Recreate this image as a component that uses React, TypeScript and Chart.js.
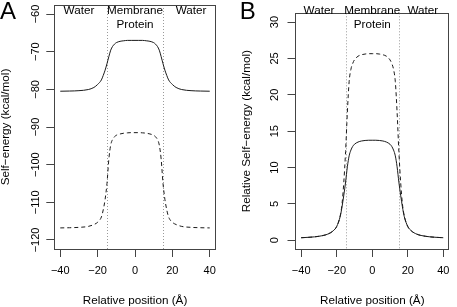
import React, { useEffect, useRef } from "react";
import { Chart, registerables } from "chart.js";

Chart.register(...registerables);

// ---------- data ----------
const positions = [-40, -35, -30, -25, -22, -20, -18, -17, -16, -15, -14, -13, -12, -11, -10, -8, -6, -4, -2, 0, 2, 4, 6, 8, 10, 11, 12, 13, 14, 15, 16, 17, 18, 20, 22, 25, 30, 35, 40];

const solidA = [-80.5, -80.45, -80.35, -80.05, -79.5, -78.7, -77.5, -76.3, -74.9, -73.2, -71.3, -69.6, -68.6, -68.0, -67.6, -67.25, -67.1, -67.0, -67.0, -67.0, -67.0, -67.0, -67.1, -67.25, -67.6, -68.0, -68.6, -69.6, -71.3, -73.2, -74.9, -76.3, -77.5, -78.7, -79.5, -80.05, -80.35, -80.45, -80.5];

const dashedA = [-116.8, -116.75, -116.65, -116.4, -115.9, -115.3, -113.9, -112.0, -109.2, -105.0, -98.5, -94.8, -93.3, -92.6, -92.2, -91.85, -91.65, -91.55, -91.5, -91.5, -91.5, -91.55, -91.65, -91.85, -92.2, -92.6, -93.3, -94.8, -98.5, -105.0, -109.2, -112.0, -113.9, -115.3, -115.9, -116.4, -116.65, -116.75, -116.8];

const solidB = [0.35, 0.42, 0.55, 0.85, 1.3, 1.9, 3.3, 4.6, 6.2, 8.0, 10.1, 11.6, 12.4, 12.9, 13.2, 13.5, 13.65, 13.72, 13.75, 13.75, 13.75, 13.72, 13.65, 13.5, 13.2, 12.9, 12.4, 11.6, 10.1, 8.0, 6.2, 4.6, 3.3, 1.9, 1.3, 0.85, 0.55, 0.42, 0.35];

const dashedB = [0.35, 0.42, 0.55, 0.85, 1.3, 1.9, 3.4, 5.0, 8.0, 12.2, 17.6, 21.8, 23.5, 24.3, 24.8, 25.3, 25.5, 25.6, 25.65, 25.65, 25.65, 25.6, 25.5, 25.3, 24.8, 24.3, 23.5, 21.8, 17.6, 12.2, 8.0, 5.0, 3.4, 1.9, 1.3, 0.85, 0.55, 0.42, 0.35];

const xTicks = [-40, -20, 0, 20, 40];
const yTicksA = [-120, -110, -100, -90, -80, -70, -60];
const yTicksB = [0, 5, 10, 15, 20, 25, 30];
const boundaries = [-15, 15];
const regionNames = [["Water"], ["Membrane", "Protein"], ["Water"]];
const regionXA = [-30, 0, 30];
const regionXB = [-30, 0, 28.5];

const FONT = '"Liberation Sans", Arial, Helvetica, sans-serif';
const AXIS_COLOR = "#444";

function minus(v: number | string) {
  return String(v).replace("-", "\u2212");
}

const decorPlugin = {
  id: "decor",
  beforeDatasetsDraw(chart: any, _args: any, opts: any) {
    const { ctx, chartArea } = chart;
    const xs = chart.scales.x;
    ctx.save();
    ctx.strokeStyle = "#9a9a9a";
    ctx.lineWidth = 1;
    ctx.setLineDash([1, 2]);
    for (const b of opts.boundaries as number[]) {
      const px = Math.round(xs.getPixelForValue(b)) + 0.5;
      ctx.beginPath();
      ctx.moveTo(px, chartArea.top);
      ctx.lineTo(px, chartArea.bottom);
      ctx.stroke();
    }
    ctx.restore();
  },
  afterDatasetsDraw(chart: any, _args: any, opts: any) {
    const { ctx, chartArea } = chart;
    const xs = chart.scales.x;
    ctx.save();
    // box
    ctx.strokeStyle = AXIS_COLOR;
    ctx.lineWidth = 1;
    ctx.setLineDash([]);
    const l = Math.floor(chartArea.left) + 0.5;
    const r = Math.floor(chartArea.right) + 0.5;
    const t = Math.floor(chartArea.top) + 0.5;
    const b = Math.floor(chartArea.bottom) + 0.5;
    ctx.strokeRect(l, t, r - l, b - t);
    // region labels
    ctx.fillStyle = "#000";
    ctx.font = `11.7px ${FONT}`;
    ctx.textAlign = "center";
    ctx.textBaseline = "alphabetic";
    (opts.regionNames as string[][]).forEach((lines, i) => {
      const px = xs.getPixelForValue(opts.regionX[i]);
      lines.forEach((line, j) => {
        ctx.fillText(line, px, 14 + j * 14.2);
      });
    });
    // panel letter
    ctx.font = `24px ${FONT}`;
    ctx.textAlign = "left";
    ctx.fillText(opts.letter, opts.letterX, 19.3);
    ctx.restore();
  },
};

interface PanelCfg {
  solid: number[];
  dashed: number[];
  yMin: number;
  yMax: number;
  yTicks: number[];
  yTitle: string;
  yWidth: number;
  padRight: number;
  yLabelPad: number;
  yTitlePad: number;
  letter: string;
  letterX: number;
  regionX: number[];
}

function makeChart(canvas: HTMLCanvasElement, cfg: PanelCfg) {
  const toPts = (vals: number[]) => positions.map((x, i) => ({ x, y: vals[i] }));
  return new Chart(canvas, {
    type: "line",
    data: {
      datasets: [
        {
          data: toPts(cfg.solid),
          borderColor: "#1a1a1a",
          borderWidth: 1,
          pointRadius: 0,
          cubicInterpolationMode: "monotone",
          fill: false,
        },
        {
          data: toPts(cfg.dashed),
          borderColor: "#1a1a1a",
          borderWidth: 1,
          borderDash: [4, 3],
          pointRadius: 0,
          cubicInterpolationMode: "monotone",
          fill: false,
        },
      ],
    },
    plugins: [decorPlugin],
    options: {
      animation: false,
      responsive: false,
      devicePixelRatio: 1,
      events: [],
      layout: { padding: { left: 0, right: cfg.padRight, top: 0.8, bottom: 0 } },
      plugins: {
        legend: { display: false },
        tooltip: { enabled: false },
        decor: {
          boundaries,
          regionNames,
          regionX: cfg.regionX,
          letter: cfg.letter,
          letterX: cfg.letterX,
        },
      } as any,
      scales: {
        x: {
          type: "linear",
          min: -43.2,
          max: 43.2,
          afterBuildTicks: (s: any) => {
            s.ticks = xTicks.map((v) => ({ value: v }));
          },
          afterFit: (s: any) => {
            s.height = 58;
          },
          border: { display: false },
          grid: {
            display: true,
            drawOnChartArea: false,
            drawTicks: true,
            tickLength: 8,
            tickColor: AXIS_COLOR,
            color: AXIS_COLOR,
          },
          ticks: {
            autoSkip: false,
            maxRotation: 0,
            minRotation: 0,
            padding: 7.6,
            color: "#000",
            font: { family: FONT, size: 11 },
            callback: (v: any) => minus(v),
          },
          title: {
            display: true,
            text: "Relative position (\u00C5)",
            color: "#000",
            font: { family: FONT, size: 11.7 },
            padding: { top: 0, bottom: -1 },
          },
        },
        y: {
          type: "linear",
          min: cfg.yMin,
          max: cfg.yMax,
          afterBuildTicks: (s: any) => {
            s.ticks = cfg.yTicks.map((v) => ({ value: v }));
          },
          afterFit: (s: any) => {
            s.width = cfg.yWidth;
          },
          border: { display: false },
          grid: {
            display: true,
            drawOnChartArea: false,
            drawTicks: true,
            tickLength: 8,
            tickColor: AXIS_COLOR,
            color: AXIS_COLOR,
          },
          ticks: {
            autoSkip: false,
            minRotation: 90,
            maxRotation: 90,
            crossAlign: "center",
            padding: cfg.yLabelPad,
            color: "#000",
            font: { family: FONT, size: 11 },
            callback: (v: any) => minus(v),
          },
          title: {
            display: true,
            text: cfg.yTitle,
            color: "#000",
            font: { family: FONT, size: 11.7 },
            padding: { top: cfg.yTitlePad, bottom: 0 },
          },
        },
      },
    } as any,
  });
}

export default function App() {
  const refA = useRef<HTMLCanvasElement>(null);
  const refB = useRef<HTMLCanvasElement>(null);

  useEffect(() => {
    document.body.style.margin = "0";
    const a = makeChart(refA.current!, {
      solid: solidA,
      dashed: dashedA,
      yMin: -122.4,
      yMax: -57.6,
      yTicks: yTicksA,
      yTitle: "Self\u2212energy (kcal/mol)",
      yWidth: 54.3,
      padRight: 12.3,
      yLabelPad: -1.6,
      yTitlePad: -1.7,
      letter: "A",
      letterX: 0,
      regionX: regionXA,
    });
    const b = makeChart(refB.current!, {
      solid: solidB,
      dashed: dashedB,
      yMin: -1.2,
      yMax: 31.2,
      yTicks: yTicksB,
      yTitle: "Relative Self\u2212energy (kcal/mol)",
      yWidth: 67.5,
      padRight: 0.3,
      yLabelPad: 6.7,
      yTitlePad: 11.5,
      letter: "B",
      letterX: 11.7,
      regionX: regionXB,
    });
    return () => {
      a.destroy();
      b.destroy();
    };
  }, []);

  return (
    <div style={{ position: "absolute", left: 0, top: 0, width: 457, height: 307, background: "#fff", overflow: "hidden" }}>
      <canvas ref={refA} width={228} height={307} style={{ position: "absolute", left: 0, top: 0, width: 228, height: 307 }} />
      <canvas ref={refB} width={229} height={307} style={{ position: "absolute", left: 228, top: 0, width: 229, height: 307 }} />
    </div>
  );
}
